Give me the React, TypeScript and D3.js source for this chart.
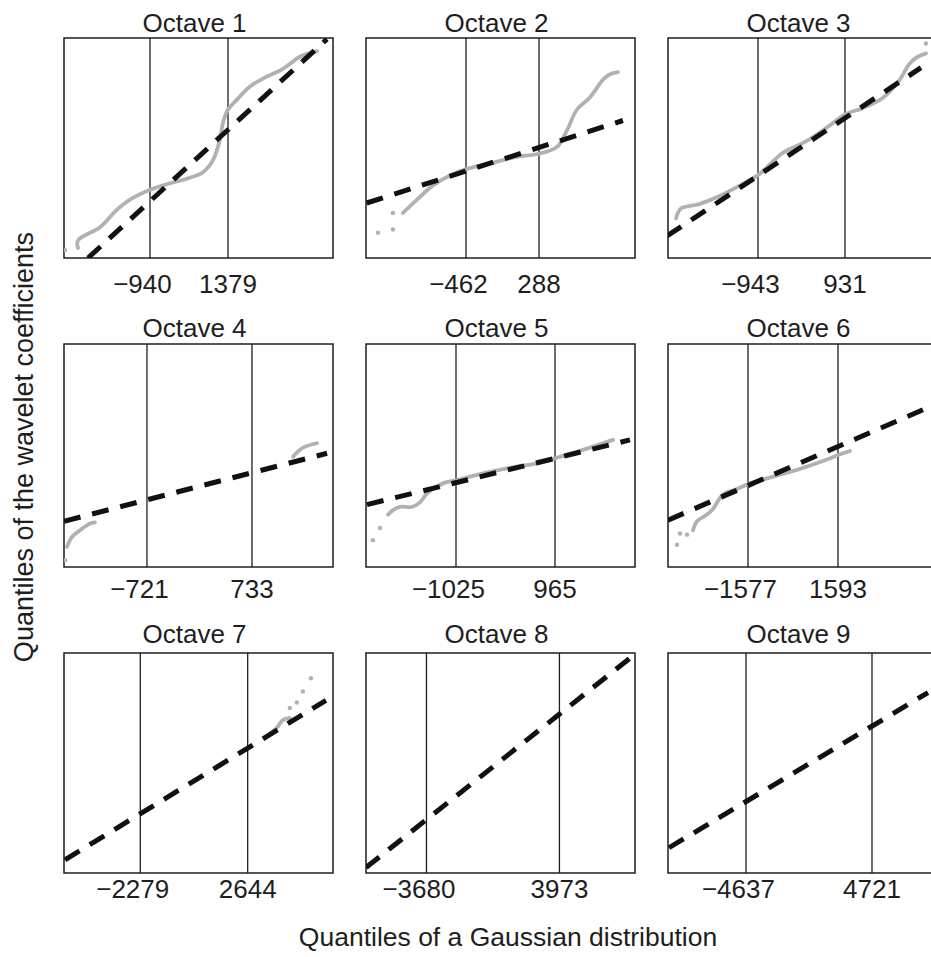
import React from "react";
import * as d3 from "d3";

// Octave index of each panel, laid out 3 x 3
const octaves = [1, 2, 3, 4, 5, 6, 7, 8, 9];

// Marked Gaussian quantiles (vertical reference lines) per octave
const quantileTicks: number[][] = [
  [-940, 1379],
  [-462, 288],
  [-943, 931],
  [-721, 733],
  [-1025, 965],
  [-1577, 1593],
  [-2279, 2644],
  [-3680, 3973],
  [-4637, 4721],
];

// Horizontal extent of each panel in Gaussian-quantile units
const gaussianExtents: number[][] = [
  [-3497, 4501],
  [-1489, 1274],
  [-2882, 2913],
  [-1870, 1855],
  [-2834, 2573],
  [-4395, 5080],
  [-5776, 6555],
  [-7159, 8322],
  [-10430, 9549],
];

// Reference (fitted Gaussian) line per octave: two end points [gaussian, normalised coefficient]
const fitLines: number[][][] = [
  [[-2783, -1.0], [4322, 0.99]],
  [[-1482, -0.5], [1150, 0.25]],
  [[-2903, -0.8], [2568, 0.73]],
  [[-1870, -0.59], [1773, 0.02]],
  [[-2814, -0.44], [2472, 0.14]],
  [[-4395, -0.58], [4586, 0.41]],
  [[-5730, -0.88], [6233, 0.57]],
  [[-7159, -0.95], [8090, 0.96]],
  [[-10356, -0.77], [8880, 0.64]],
];

// Empirical wavelet-coefficient quantiles (connected traces)
const octave1Trace = [
  [-3081, -0.91], [-3081, -0.84], [-2427, -0.72], [-1921, -0.56], [-1535, -0.47],
  [-940, -0.38], [-346, -0.32], [249, -0.27], [635, -0.22], [933, -0.11],
  [1141, 0.08], [1230, 0.23], [1379, 0.35], [1646, 0.44], [2033, 0.56],
  [2538, 0.65], [3014, 0.72], [3519, 0.83], [4025, 0.88],
];
const octave2Trace = [
  [-1109, -0.59], [-965, -0.47], [-801, -0.34], [-626, -0.25], [-452, -0.19],
  [-216, -0.14], [62, -0.08], [298, -0.05], [473, 0.01], [575, 0.16],
  [678, 0.35], [811, 0.46], [945, 0.62], [1017, 0.67], [1099, 0.69],
];
const octave3Trace = [
  [-2710, -0.64], [-2602, -0.55], [-2214, -0.51], [-1848, -0.45], [-1417, -0.36],
  [-922, -0.24], [-426, -0.05], [91, 0.06], [586, 0.2], [952, 0.31],
  [1297, 0.36], [1728, 0.45], [2094, 0.61], [2309, 0.76], [2460, 0.82], [2675, 0.86],
];
const octave4Trace = [
  [-1828, -0.82], [-1759, -0.73], [-1648, -0.67], [-1510, -0.61], [-1441, -0.6],
];
const octave4UpperTrace = [
  [1302, -0.01], [1440, 0.07], [1634, 0.11],
];
const octave5Trace = [
  [-2392, -0.53], [-2291, -0.49], [-2151, -0.46], [-1909, -0.46], [-1749, -0.42],
  [-1608, -0.34], [-1286, -0.25], [-1005, -0.22], [-482, -0.16], [60, -0.11],
  [603, -0.07], [1005, -0.02], [1528, 0.05], [2131, 0.14],
];
const octave6Trace = [
  [-3514, -0.67], [-3374, -0.59], [-3021, -0.53], [-2810, -0.48], [-2458, -0.35],
  [-1965, -0.3], [-1507, -0.25], [-697, -0.19], [254, -0.12], [1064, -0.05],
  [1769, 0.02], [2015, 0.04],
];
const octave7Trace = [
  [3564, 0.25], [3978, 0.32], [4254, 0.39], [4576, 0.41],
];

// Isolated extreme quantiles
const octave1Outliers = [[-3467, -0.93]];
const octave2Outliers = [[-1366, -0.77], [-1212, -0.74], [-1212, -0.59]];
const octave3Outliers = [[2675, 0.95]];
const octave4Outliers = [[-1856, -0.94]];
const octave5Outliers = [[-2693, -0.76], [-2553, -0.65]];
const octave6Outliers = [[-4078, -0.8], [-3972, -0.7], [-3726, -0.71]];
const octave7Outliers = [[4576, 0.5], [4898, 0.55], [5174, 0.65], [5542, 0.77]];

const traces: number[][][][] = [
  [octave1Trace],
  [octave2Trace],
  [octave3Trace],
  [octave4Trace, octave4UpperTrace],
  [octave5Trace],
  [octave6Trace],
  [octave7Trace],
  [],
  [],
];
const outliers: number[][][] = [
  octave1Outliers, octave2Outliers, octave3Outliers, octave4Outliers,
  octave5Outliers, octave6Outliers, octave7Outliers, [], [],
];

const W = 931;
const H = 957;
const colLeft = [64, 366, 668];
const colRight = [333, 635, 937];
const rowTop = [38, 344, 653];
const rowBottom = [258, 567, 873];
const titleBaseline = [32, 337, 643];
const tickBaseline = [293, 598, 898];

const FONT = "'Liberation Sans', Arial, Helvetica, sans-serif";
const INK = "#1e1e1e";
const TRACE = "#b1b1b1";

function fmt(v: number) {
  return v < 0 ? "\u2212" + Math.abs(v) : String(v);
}

export default function App() {
  const line = d3.line<number[]>();
  return (
    <svg
      width={W}
      height={H}
      viewBox={`0 0 ${W} ${H}`}
      style={{ position: "absolute", left: 0, top: 0, background: "#fff" }}
      fontFamily={FONT}
    >
      <defs>
        {octaves.map((o, i) => {
          const c = i % 3;
          const r = Math.floor(i / 3);
          return (
            <clipPath id={`panel-clip-${o}`} key={o}>
              <rect
                x={colLeft[c]}
                y={rowTop[r]}
                width={colRight[c] - colLeft[c]}
                height={rowBottom[r] - rowTop[r]}
              />
            </clipPath>
          );
        })}
      </defs>
      <rect x={0} y={0} width={W} height={H} fill="#fff" />
      {octaves.map((o, i) => {
        const c = i % 3;
        const r = Math.floor(i / 3);
        const x = d3.scaleLinear().domain(gaussianExtents[i]).range([colLeft[c], colRight[c]]);
        const y = d3.scaleLinear().domain([-1, 1]).range([rowBottom[r], rowTop[r]]);
        const top = rowTop[r];
        const bottom = rowBottom[r];
        const project = (p: number[]) => [x(p[0]), y(p[1])];
        const centre = (colLeft[c] + colRight[c]) / 2 - 4;
        return (
          <g key={o}>
            <rect
              x={colLeft[c]}
              y={top}
              width={colRight[c] - colLeft[c]}
              height={bottom - top}
              fill="none"
              stroke={INK}
              strokeWidth={1.5}
            />
            {quantileTicks[i].map((t) => (
              <line
                key={t}
                x1={x(t)}
                x2={x(t)}
                y1={top}
                y2={bottom}
                stroke={INK}
                strokeWidth={1.3}
              />
            ))}
            <g clipPath={`url(#panel-clip-${o})`}>
              {traces[i].map((seg, k) => (
                <path
                  key={k}
                  d={line.curve(d3.curveCatmullRom)(seg.map(project)) || ""}
                  fill="none"
                  stroke={TRACE}
                  strokeWidth={3.8}
                  strokeLinecap="round"
                  strokeLinejoin="round"
                />
              ))}
              {outliers[i].map((p, k) => (
                <circle key={k} cx={x(p[0])} cy={y(p[1])} r={2.2} fill={TRACE} />
              ))}
              <path
                d={d3.line()(fitLines[i].map(project) as [number, number][]) || ""}
                fill="none"
                stroke="#111"
                strokeWidth={5}
                strokeDasharray="17 12"
              />
            </g>
            <text
              x={centre}
              y={titleBaseline[r]}
              textAnchor="middle"
              fontSize={26}
              fill={INK}
            >
              {`Octave ${o}`}
            </text>
            {quantileTicks[i].map((t) => (
              <text
                key={t}
                x={x(t)}
                y={tickBaseline[r]}
                dx={t < 0 ? "-0.29em" : 0}
                textAnchor="middle"
                fontSize={26}
                fill={INK}
              >
                {fmt(t)}
              </text>
            ))}
          </g>
        );
      })}
      <text
        transform="translate(33,447) rotate(-90)"
        textAnchor="middle"
        fontSize={27}
        fill={INK}
      >
        Quantiles of the wavelet coefficients
      </text>
      <text x={508} y={946} textAnchor="middle" fontSize={26.5} fill={INK}>
        Quantiles of a Gaussian distribution
      </text>
    </svg>
  );
}
